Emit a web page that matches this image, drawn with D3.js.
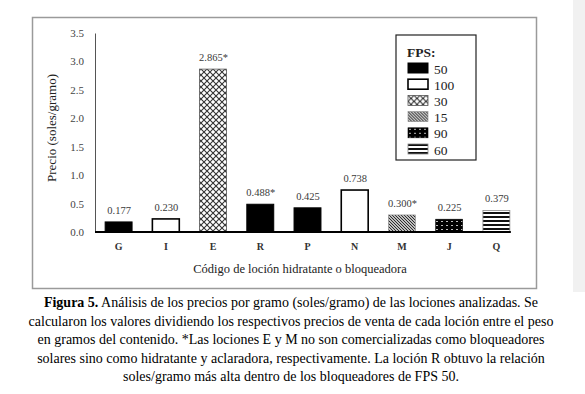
<!DOCTYPE html>
<html>
<head>
<meta charset="utf-8">
<script src="https://cdn.jsdelivr.net/npm/d3@7"></script>
<style>
  body { margin: 0; background: #fff; }
  svg { display: block; }
</style>
</head>
<body>
<svg id="drawing_region"></svg>
<script>
// data
var categories = ['G', 'I', 'E', 'R', 'P', 'N', 'M', 'J', 'Q'];
var values = [0.177, 0.230, 2.865, 0.488, 0.425, 0.738, 0.300, 0.225, 0.379];
var valueLabels = ['0.177', '0.230', '2.865*', '0.488*', '0.425', '0.738', '0.300*', '0.225', '0.379'];
var fps = ['50', '100', '30', '50', '50', '100', '15', '90', '60'];
var legendFps = ['50', '100', '30', '15', '90', '60'];
var yTicks = [0, 0.5, 1.0, 1.5, 2.0, 2.5, 3.0, 3.5];
var captionLines = [
    ['Figura 5.', ' Análisis de los precios por gramo (soles/gramo) de las lociones analizadas. Se'],
    ['', 'calcularon los valores dividiendo los respectivos precios de venta de cada loción entre el peso'],
    ['', 'en gramos del contenido.  *Las lociones E y M no son comercializadas como bloqueadores'],
    ['', 'solares sino como hidratante y aclaradora, respectivamente. La loción R obtuvo la relación'],
    ['', 'soles/gramo más alta dentro de los bloqueadores de FPS 50.']
];

var FONT = "'Liberation Serif', 'DejaVu Serif', serif";

var width = 585, height = 394;
var svg = d3.select('#drawing_region').attr('width', width).attr('height', height)
    .style('font-family', FONT);

// light strip on the right edge
svg.append('rect').attr('x', 573).attr('y', 0).attr('width', 12).attr('height', 292).attr('fill', '#f1f1f1');

// frame
svg.append('rect')
    .attr('x', 32.5).attr('y', 17.5).attr('width', 504).attr('height', 271)
    .attr('fill', 'none').attr('stroke', '#9a9a9a').attr('stroke-width', 1.5);

// patterns
var defs = svg.append('defs');

var p30 = defs.append('pattern').attr('id', 'p30').attr('patternUnits', 'userSpaceOnUse')
    .attr('width', 6).attr('height', 6);
p30.append('rect').attr('width', 6).attr('height', 6).attr('fill', '#fff');
p30.append('path').attr('d', 'M0,0L6,6M6,0L0,6').attr('stroke', '#333').attr('stroke-width', 1.1);
p30.append('circle').attr('cx', 3).attr('cy', 0).attr('r', 0.9).attr('fill', '#fff');

var p15 = defs.append('pattern').attr('id', 'p15').attr('patternUnits', 'userSpaceOnUse')
    .attr('width', 3).attr('height', 3);
p15.append('rect').attr('width', 3).attr('height', 3).attr('fill', '#fff');
p15.append('path').attr('d', 'M-1,-1L4,4M-1,2L1,4M2,-1L4,1').attr('stroke', '#222').attr('stroke-width', 1.1);

var p90 = defs.append('pattern').attr('id', 'p90').attr('patternUnits', 'userSpaceOnUse')
    .attr('width', 5).attr('height', 4);
p90.append('rect').attr('width', 5).attr('height', 4).attr('fill', '#000');
p90.append('rect').attr('x', 1).attr('y', 1).attr('width', 2).attr('height', 1).attr('fill', '#bbb');

var p60 = defs.append('pattern').attr('id', 'p60').attr('patternUnits', 'userSpaceOnUse')
    .attr('width', 4).attr('height', 4);
p60.append('rect').attr('width', 4).attr('height', 4).attr('fill', '#fff');
p60.append('rect').attr('y', 0).attr('width', 4).attr('height', 2).attr('fill', '#111');

var fillFor = {'50': '#000', '100': '#fff', '30': 'url(#p30)', '15': 'url(#p15)', '90': 'url(#p90)', '60': 'url(#p60)'};
var strokeFor = {'50': '#000', '100': '#000', '30': '#555', '15': '#888', '90': '#000', '60': '#888'};
var strokeWFor = {'50': 1, '100': 1.6, '30': 0.8, '15': 0.6, '90': 0.6, '60': 0.8};

// scales
var x = d3.scaleBand().domain(categories).range([95, 520]).paddingInner(0.43).paddingOuter(0.215);
var y = d3.scaleLinear().domain([0, 3.5]).range([232, 33]);

// y axis
var yAxis = d3.axisLeft(y).tickValues(yTicks).tickFormat(d3.format('.1f')).tickSize(0).tickPadding(11);
var gy = svg.append('g').attr('transform', 'translate(95,0)').call(yAxis)
    .attr('font-family', FONT);
gy.select('.domain').attr('stroke', '#555').attr('stroke-width', 1);
gy.selectAll('text').attr('font-size', 11).attr('fill', '#444');

// bars
svg.selectAll('rect.bar').data(categories).enter()
    .append('rect').attr('class', 'bar')
    .attr('x', (d) => x(d))
    .attr('y', (d, i) => y(values[i]))
    .attr('width', x.bandwidth())
    .attr('height', (d, i) => y(0) - y(values[i]))
    .attr('fill', (d, i) => fillFor[fps[i]])
    .attr('stroke', (d, i) => strokeFor[fps[i]])
    .attr('stroke-width', (d, i) => strokeWFor[fps[i]]);

// value labels
svg.selectAll('text.val').data(categories).enter()
    .append('text').attr('class', 'val')
    .attr('x', (d) => x(d) + x.bandwidth() / 2 + 0.5)
    .attr('y', (d, i) => y(values[i]) - 8)
    .attr('text-anchor', 'middle')
    .attr('font-size', 10.5).attr('fill', '#3a3a3a')
    .text((d, i) => valueLabels[i]);

// x axis
var xAxis = d3.axisBottom(x).tickSize(0).tickPadding(11);
var gx = svg.append('g').attr('transform', 'translate(0,232)').call(xAxis)
    .attr('font-family', FONT);
gx.select('.domain').attr('d', 'M95,0H' + (x('Q') + x.bandwidth() + 1))
    .attr('stroke', '#000').attr('stroke-width', 2.2);
gx.selectAll('text').attr('font-size', 10).attr('font-weight', 'bold').attr('fill', '#333');

// axis titles
svg.append('text').attr('x', 300).attr('y', 273).attr('text-anchor', 'middle')
    .attr('font-size', 12.5).attr('fill', '#222')
    .text('Código de loción hidratante o bloqueadora');
svg.append('text').attr('transform', 'translate(56,128) rotate(-90)').attr('text-anchor', 'middle')
    .attr('font-size', 13).attr('fill', '#222')
    .text('Precio (soles/gramo)');

// legend
var lg = svg.append('g');
lg.append('rect').attr('x', 396).attr('y', 35).attr('width', 80).attr('height', 125)
    .attr('fill', '#fff').attr('stroke', '#222').attr('stroke-width', 1.2);
lg.append('text').attr('x', 407).attr('y', 57).attr('font-size', 13.5).attr('font-weight', 'bold')
    .attr('fill', '#222').text('FPS:');
var items = lg.selectAll('g.item').data(legendFps).enter().append('g').attr('class', 'item')
    .attr('transform', (d, i) => 'translate(408,' + (63 + i * 16.2) + ')');
items.append('rect').attr('width', 20).attr('height', 10)
    .attr('fill', (d) => fillFor[d]).attr('stroke', (d) => strokeFor[d])
    .attr('stroke-width', (d) => strokeWFor[d]);
items.append('text').attr('x', 26).attr('y', 10.5).attr('font-size', 13.5).attr('fill', '#222')
    .text((d) => d);

// caption
var cap = svg.append('text').attr('text-anchor', 'middle').attr('font-size', 14).attr('fill', '#000');
captionLines.forEach(function (ln, i) {
    var t = cap.append('tspan').attr('x', 291).attr('y', 307 + i * 18.6);
    if (ln[0]) {
        t.append('tspan').attr('font-weight', 'bold').text(ln[0]);
    }
    t.append('tspan').text(ln[1]);
});
</script>
</body>
</html>
